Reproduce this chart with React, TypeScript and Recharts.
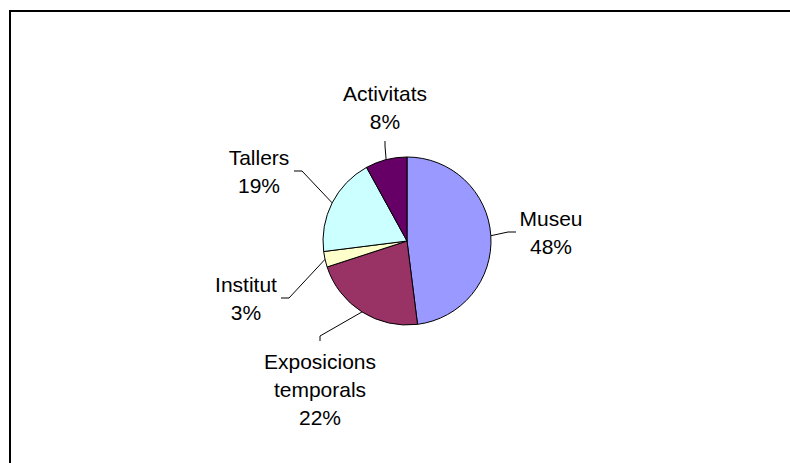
import { Cell, Pie, PieChart } from "recharts";

// Slices clockwise from 12 o'clock, as in the source workbook
const CATEGORIES = ["Museu", "Exposicions temporals", "Institut", "Tallers", "Activitats"];
const VALUES = [48, 22, 3, 19, 8];
const COLORS = ["#9999FF", "#993366", "#FFFFCC", "#CCFFFF", "#660066"];

// label blocks were dragged by hand in the original: centre offset from the pie centre
const LABEL_OFFSETS = [
  [144, -9],
  [-87, 148],
  [-161, 57],
  [-148, -70],
  [-22, -134],
];

const FONT = "'Liberation Sans', Arial, sans-serif";
const FONT_SIZE = 21;
const LINE_H = 28;
const RAD = Math.PI / 180;

const rows = CATEGORIES.map((name, i) => ({ name, value: VALUES[i] }));
const total = VALUES.reduce((a, b) => a + b, 0);

function renderLabel(props: any) {
  const { cx, cy, midAngle, outerRadius, index } = props;
  const ex = cx + outerRadius * Math.cos(-midAngle * RAD);
  const ey = cy + outerRadius * Math.sin(-midAngle * RAD);
  const [dx, dy] = LABEL_OFFSETS[index];
  const lx = cx + dx;
  const ly = cy + dy;
  const pct = Math.round((VALUES[index] / total) * 100);
  const lines = [...CATEGORIES[index].split(" "), `${pct}%`];

  // leader line: edge of slice -> short elbow -> side of the label block
  let endX, endY, elbX, elbY;
  if (Math.abs(dx) > Math.abs(dy)) {
    const s = dx > 0 ? -1 : 1;
    endX = lx + s * 35;
    endY = ly;
    elbX = endX + s * 8;
    elbY = ly;
  } else {
    const s = dy > 0 ? -1 : 1;
    endX = lx;
    endY = ly + s * ((lines.length * LINE_H) / 2 + 6);
    elbX = lx;
    elbY = endY + s * 5;
  }
  const firstBaseline = ly - ((lines.length - 1) * LINE_H) / 2 + 7.5;

  return (
    <g key={`lbl-${index}`}>
      <polyline
        points={`${ex},${ey} ${elbX},${elbY} ${endX},${endY}`}
        fill="none"
        stroke="#000"
        strokeWidth={1}
      />
      <text
        x={lx}
        y={firstBaseline}
        textAnchor="middle"
        fontFamily={FONT}
        fontSize={FONT_SIZE}
        fill="#000"
      >
        {lines.map((t, i) => (
          <tspan key={i} x={lx} dy={i === 0 ? 0 : LINE_H}>
            {t}
          </tspan>
        ))}
      </text>
    </g>
  );
}

export default function App() {
  return (
    <div
      style={{
        position: "fixed",
        left: 9,
        top: 10,
        width: 781,
        height: 453,
        boxSizing: "border-box",
        borderTop: "2px solid #000",
        borderLeft: "2px solid #000",
        background: "#fff",
      }}
    >
      <PieChart width={779} height={451} margin={{ top: 0, right: 0, bottom: 0, left: 0 }}>
        <Pie
          data={rows}
          dataKey="value"
          nameKey="name"
          cx={396}
          cy={229}
          outerRadius={84}
          startAngle={90}
          endAngle={-270}
          stroke="#000"
          strokeWidth={1}
          label={renderLabel}
          labelLine={false}
          isAnimationActive={false}
        >
          {rows.map((r, i) => (
            <Cell key={r.name} fill={COLORS[i]} />
          ))}
        </Pie>
      </PieChart>
    </div>
  );
}
